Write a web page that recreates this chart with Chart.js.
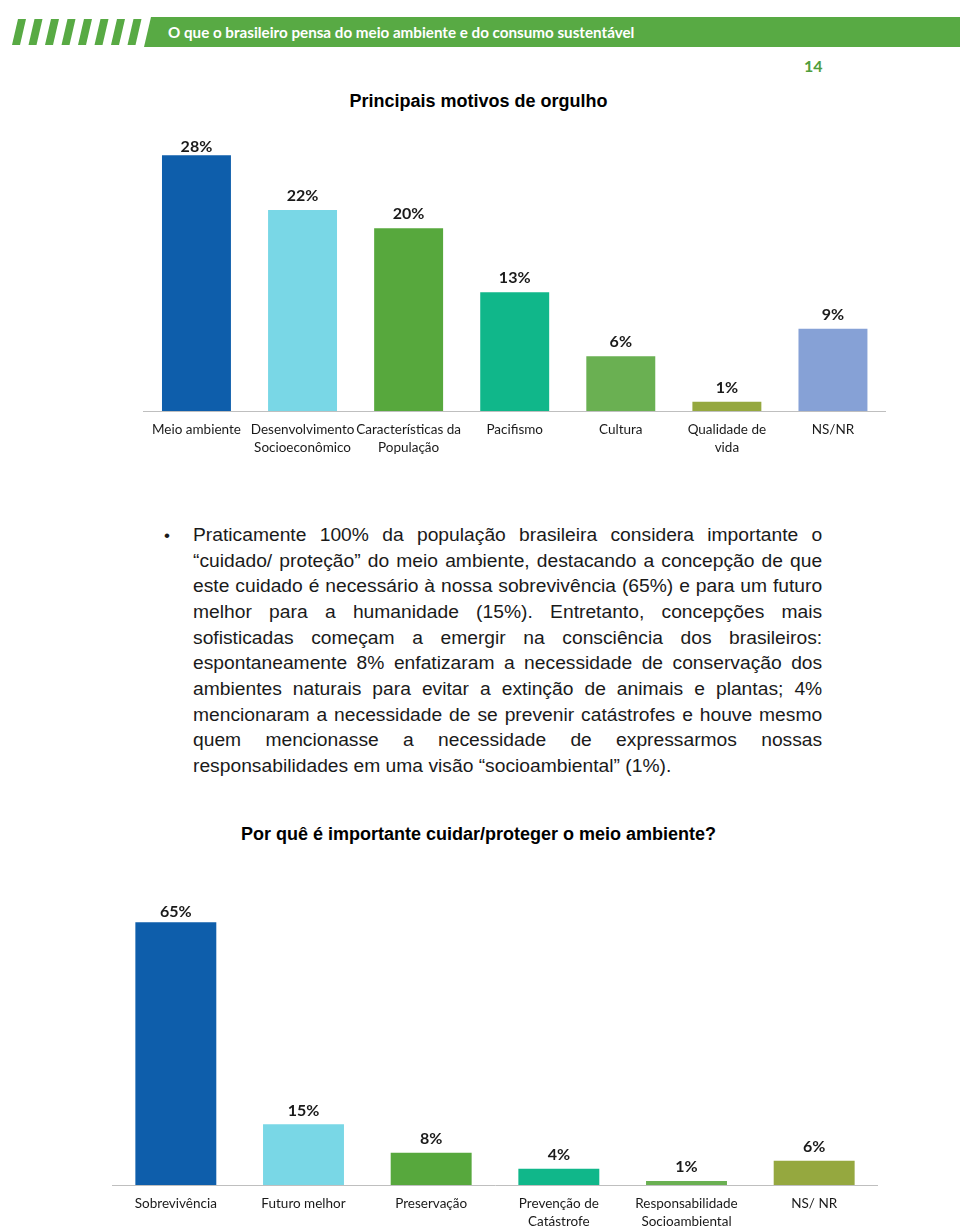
<!DOCTYPE html>
<html>
<head>
<meta charset="utf-8">
<script src="https://cdn.jsdelivr.net/npm/chart.js@4.4.0/dist/chart.umd.min.js"></script>
<style>
  body { margin:0; width:960px; height:1227px; overflow:hidden; background:#fff; position:relative; font-family:"Liberation Sans", Arial, sans-serif; }
  .abs { position:absolute; }
  .hdr { left:168px; top:22px; color:#fff; font:bold 15.2px Lato, sans-serif; line-height:20px; }
  .pnum { left:804px; top:56px; color:#4f9e3c; font:bold 16px Lato, sans-serif; line-height:20px; }
  .title { left:0; width:957px; text-align:center; font-weight:bold; font-size:18px; line-height:22px; color:#000; }
  .para { left:193px; top:523px; width:572px; font-size:17.5px; line-height:25.67px; color:#1a1a1a; transform:scaleX(1.1); transform-origin:0 0; }
  .para div { text-align:justify; text-align-last:justify; white-space:nowrap; }
  .para div.last { text-align-last:left; }
  .bullet { left:164px; top:523px; font-size:17px; line-height:25.67px; color:#1a1a1a; }
</style>
</head>
<body>
<svg class="abs" style="left:0;top:0" width="960" height="60">
  <g fill="#58aa44">
    <polygon points="18,19 26,19 20,45 12,45"/>
    <polygon points="34.5,19 42.5,19 36.5,45 28.5,45"/>
    <polygon points="51,19 59,19 53,45 45,45"/>
    <polygon points="67.5,19 75.5,19 69.5,45 61.5,45"/>
    <polygon points="84,19 92,19 86,45 78,45"/>
    <polygon points="100.5,19 108.5,19 102.5,45 94.5,45"/>
    <polygon points="117,19 125,19 119,45 111,45"/>
    <polygon points="133.5,19 141.5,19 135.5,45 127.5,45"/>
    <polygon points="151,17 960,17 960,47 144,47"/>
  </g>
</svg>
<div class="abs hdr">O que o brasileiro pensa do meio ambiente e do consumo sustentável</div>
<div class="abs pnum">14</div>

<div class="abs title" style="top:90px">Principais motivos de orgulho</div>
<canvas id="chart1" class="abs" style="left:142px;top:130px" width="744" height="331"></canvas>

<div class="abs bullet">•</div>
<div class="abs para">
  <div>Praticamente 100% da população brasileira considera importante o</div>
  <div>“cuidado/ proteção” do meio ambiente, destacando a concepção de que</div>
  <div>este cuidado é necessário à nossa sobrevivência (65%) e para um futuro</div>
  <div>melhor para a humanidade (15%). Entretanto, concepções mais</div>
  <div>sofisticadas começam a emergir na consciência dos brasileiros:</div>
  <div>espontaneamente 8% enfatizaram a necessidade de conservação dos</div>
  <div>ambientes naturais para evitar a extinção de animais e plantas; 4%</div>
  <div>mencionaram a necessidade de se prevenir catástrofes e houve mesmo</div>
  <div>quem mencionasse a necessidade de expressarmos nossas</div>
  <div class="last">responsabilidades em uma visão “socioambiental” (1%).</div>
</div>

<div class="abs title" style="top:823px">Por quê é importante cuidar/proteger o meio ambiente?</div>
<canvas id="chart2" class="abs" style="left:112px;top:895px" width="766" height="340"></canvas>

<script>
// motivos de orgulho
const orgulhoLabels = ['Meio ambiente', ['Desenvolvimento', 'Socioeconômico'], ['Características da', 'População'], 'Pacifismo', 'Cultura', ['Qualidade de', 'vida'], 'NS/NR'];
const orgulhoValues = [28, 22, 20, 13, 6, 1, 9];
const orgulhoColors = ['#0e5eab', '#79d7e6', '#57a83d', '#10b78a', '#6ab052', '#95a83f', '#86a1d6'];

// por que cuidar do meio ambiente
const cuidarLabels = ['Sobrevivência', 'Futuro melhor', 'Preservação', ['Prevenção de', 'Catástrofe'], ['Responsabilidade', 'Socioambiental'], 'NS/ NR'];
const cuidarValues = [65, 15, 8, 4, 1, 6];
const cuidarColors = ['#0e5eab', '#79d7e6', '#57a83d', '#10b78a', '#6ab052', '#95a83f'];

// labels sit ~14px above the bar, but never above the plot top (like excel)
const valueLabels = {
  id: 'valueLabels',
  afterDatasetsDraw(chart, args, opts) {
    const ctx = chart.ctx;
    const ds = chart.data.datasets[0];
    const top = chart.chartArea.top + 10;
    chart.getDatasetMeta(0).data.forEach((bar, i) => {
      ctx.save();
      ctx.font = 'bold 16px Lato, sans-serif';
      ctx.fillStyle = '#1a1a1a';
      ctx.textAlign = 'center';
      ctx.textBaseline = 'middle';
      ctx.fillText(ds.data[i] + '%', bar.x, Math.max(bar.y - 14, top));
      ctx.restore();
    });
  }
};

function makeChart(id, labels, values, colors, maxY, barPct) {
  return new Chart(document.getElementById(id), {
    type: 'bar',
    data: {
      labels: labels,
      datasets: [{
        data: values,
        backgroundColor: colors,
        borderWidth: 0,
        barPercentage: barPct,
        categoryPercentage: 1
      }]
    },
    options: {
      responsive: false,
      animation: false,
      layout: { padding: { top: 7, left: 0, right: 0, bottom: 0 } },
      plugins: { legend: { display: false }, tooltip: { enabled: false } },
      scales: {
        y: { display: false, min: 0, max: maxY },
        x: {
          grid: { display: false, drawTicks: false },
          border: { display: true, color: '#bfbfbf', width: 1 },
          ticks: {
            color: '#1a1a1a',
            font: { family: 'Lato', size: 13.5, lineHeight: 1.33 },
            padding: 10,
            maxRotation: 0,
            autoSkip: false
          },
          afterFit(scale) { scale.height = 50; }
        }
      }
    },
    plugins: [valueLabels]
  });
}

makeChart('chart1', orgulhoLabels, orgulhoValues, orgulhoColors, 30, 0.65);
makeChart('chart2', cuidarLabels, cuidarValues, cuidarColors, 70, 0.634);
</script>
</body>
</html>
